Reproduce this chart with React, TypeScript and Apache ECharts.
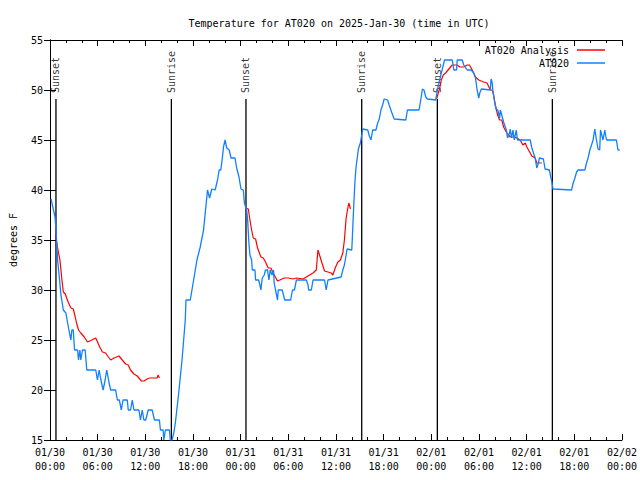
import React, { useEffect, useRef } from "react";
import * as echarts from "echarts";

// Hours since 2025-01-30 00:00 UTC
const obsHours = [0.13, 0.63, 0.75, 0.96, 1.18, 1.38, 1.68, 2.0, 2.22, 2.5, 2.63, 2.75, 2.93, 3.09, 3.47, 3.59, 3.76, 3.88, 4.09, 4.43, 4.63, 5.76, 5.97, 6.19, 6.41, 6.69, 6.94, 7.14, 7.44, 7.64, 8.26, 8.48, 8.73, 8.98, 9.19, 9.73, 9.85, 10.14, 10.36, 10.57, 11.19, 11.39, 11.61, 11.82, 12.05, 12.36, 12.86, 13.15, 13.77, 13.9, 14.24, 14.33, 14.53, 15.03, 15.15, 15.36, 15.58, 15.78, 16.2, 16.62, 17.03, 17.12, 17.66, 18.08, 18.5, 18.91, 19.33, 19.83, 20.09, 20.37, 20.79, 21.09, 21.29, 21.5, 21.71, 21.84, 22.04, 22.25, 22.56, 22.79, 23.29, 23.5, 23.79, 24.04, 24.34, 24.47, 24.76, 24.88, 25.04, 25.17, 25.38, 25.47, 25.8, 25.88, 26.26, 26.42, 26.55, 26.72, 26.97, 27.13, 27.39, 27.55, 27.72, 27.95, 28.14, 28.22, 28.39, 28.64, 28.73, 29.23, 29.55, 30.3, 30.52, 30.77, 31.02, 32.27, 32.48, 32.56, 32.9, 33.11, 34.56, 34.77, 34.99, 36.65, 36.86, 37.06, 37.28, 37.4, 37.99, 38.12, 38.24, 38.4, 38.53, 38.82, 39.07, 39.24, 39.37, 40.0, 40.2, 40.41, 40.62, 41.03, 41.25, 41.45, 41.66, 41.87, 42.07, 42.5, 42.7, 43.0, 43.33, 44.79, 45.0, 46.46, 46.67, 46.88, 47.08, 47.3, 47.51, 48.55, 48.76, 48.96, 49.26, 49.39, 49.67, 50.64, 50.84, 51.18, 51.26, 51.89, 52.09, 52.52, 53.02, 53.34, 53.56, 53.77, 53.97, 54.1, 54.31, 55.43, 55.52, 55.65, 55.77, 55.97, 56.15, 56.37, 56.6, 56.69, 56.87, 57.1, 57.44, 57.6, 57.85, 57.94, 58.1, 58.28, 58.45, 58.69, 58.85, 60.45, 60.66, 60.86, 61.07, 61.28, 61.48, 61.61, 62.11, 62.32, 62.86, 63.04, 63.2, 63.32, 65.66, 65.86, 66.08, 66.29, 66.49, 67.33, 67.54, 67.74, 67.96, 68.17, 68.37, 68.58, 68.79, 68.99, 69.2, 69.3, 69.62, 69.84, 70.05, 71.3, 71.5, 71.71];
const obsTemps = [39.1, 37.3, 36.1, 33, 31.2, 29.5, 28, 27.7, 26.7, 25.5, 25, 26, 26, 24, 24, 23, 24, 23, 24, 24, 22, 22, 21, 22, 21, 20, 21, 22, 20.7, 20, 20, 19, 19, 18, 19, 19, 18, 18, 19, 18, 18, 17, 18, 17, 17, 18, 18, 17, 17, 16, 16, 15, 16, 16, 15, 15, 15.7, 16.7, 19.7, 23, 27, 29, 29, 31, 33, 34.3, 36, 40, 39.2, 40.1, 40, 41, 42, 42, 43.3, 44.3, 45, 44.2, 44, 43.2, 43.2, 42.2, 41.3, 40.1, 40, 38.7, 38, 37, 34.7, 33.5, 33, 32, 32, 31, 31, 30.5, 30, 31.2, 31.5, 32, 32, 31, 32, 31.5, 32, 30.7, 30, 29, 30, 30, 29, 29, 30, 30, 31, 31, 30.5, 30, 30, 31, 31, 30, 31, 31.3, 32, 32.5, 33.5, 34.1, 34, 36.3, 38.5, 41, 42.3, 44.1, 44.7, 45.5, 46.1, 46, 45.4, 45, 46, 46, 46.7, 47.1, 48, 48.5, 49.1, 49, 48.5, 47.8, 47.1, 47, 48, 48, 49, 50.1, 50, 49.3, 49.1, 49, 50, 50.7, 51.7, 52.1, 53, 53, 52, 52, 53, 53, 52.5, 52, 52, 51.7, 51.2, 50, 49.2, 49.7, 50.1, 50, 51.1, 50.8, 49.8, 48.8, 48.1, 48, 47.2, 48, 47.5, 46.8, 46, 45.2, 45.7, 46.1, 45.2, 46, 45, 46, 45, 45, 44.2, 43.7, 43.2, 42.2, 42.7, 43.2, 43.1, 42.1, 42, 41.3, 40.7, 40.1, 40, 40.7, 41.2, 41.8, 42, 42, 42.7, 43.2, 44, 44.5, 45, 46.1, 45, 44.1, 44, 46, 45, 46, 45, 45, 44, 44];

// null = gap between analysis runs
const anaHours = [0.68, 0.96, 1.25, 1.38, 1.5, 1.68, 1.93, 2.09, 2.34, 2.63, 2.93, 3.18, 3.34, 3.59, 3.88, 4.31, 4.72, 5.26, 5.76, 6.26, 6.6, 7.01, 7.35, 7.64, 8.06, 8.69, 9.1, 9.52, 9.85, 10.14, 10.57, 10.98, 11.52, 11.82, 12.23, 12.52, 13.49, 13.61, 13.77, 19.0, 24.63, 24.97, 25.17, 25.38, 25.59, 25.88, 26.13, 26.55, 26.85, 27.13, 27.47, 27.8, 28.1, 28.64, 28.93, 29.48, 29.98, 30.6, 31.02, 31.86, 32.27, 32.68, 33.11, 33.52, 33.73, 33.93, 34.24, 34.56, 34.99, 35.4, 35.61, 35.9, 36.24, 36.56, 36.86, 37.06, 37.28, 37.49, 37.62, 37.82, 43.0, 48.67, 49.09, 49.26, 49.51, 49.8, 50.21, 50.64, 51.26, 51.59, 52.09, 52.52, 52.8, 53.02, 53.27, 53.56, 53.97, 54.6, 55.02, 55.43, 55.65, 55.85, 56.06, 56.35, 56.6, 56.87, 57.1, 57.44, 57.73, 57.94, 58.35, 58.78, 59.19, 59.53, 59.82, 60.03, 60.45, 60.66, 61.07, 61.28, 61.91];
const anaTemps = [35.6, 34.2, 33, 32, 31, 29.8, 29.6, 29.2, 28.7, 28.2, 28.1, 27.3, 26.7, 26, 25.7, 25.3, 24.8, 25, 25.2, 24.3, 23.8, 23.7, 23.3, 23, 23.2, 23.4, 23, 22.6, 22.5, 22, 21.6, 21.4, 20.9, 20.9, 21.1, 21.2, 21.2, 21.5, 21.2, null, 38.2, 38.1, 37, 36, 35.2, 35.1, 34.2, 33.3, 33.2, 32.8, 32.2, 32.2, 31.7, 30.9, 31, 31.2, 31.2, 31.1, 31.2, 31.1, 31.3, 31.5, 31.7, 32, 34, 33.5, 32.7, 31.9, 31.8, 31.7, 31.5, 32.2, 32.8, 33, 33.7, 35, 37.2, 38.2, 38.7, 38.1, null, 49.1, 50.3, 51, 51.5, 51.7, 52.1, 52.5, 52.5, 52.3, 52.3, 52.5, 52.5, 52.2, 51.8, 51.3, 51, 50.8, 50.7, 50, 50, 49.5, 48.5, 47.5, 47, 47, 46.3, 45.8, 45.5, 45.3, 45.3, 45.2, 45, 44.5, 44.7, 44.3, 43.7, 43.4, 43.2, 42.7, 42.7];

const sunHours = [0.75, 15.28, 24.67, 39.24, 48.76, 63.24];
const sunLabels = ["Sunset", "Sunrise", "Sunset", "Sunrise", "Sunset", "Sunrise"];

const xTickLabels = [
  "01/30\n00:00", "01/30\n06:00", "01/30\n12:00", "01/30\n18:00",
  "01/31\n00:00", "01/31\n06:00", "01/31\n12:00", "01/31\n18:00",
  "02/01\n00:00", "02/01\n06:00", "02/01\n12:00", "02/01\n18:00",
  "02/02\n00:00",
];

const Y_MIN = 15;
const Y_MAX = 55;
const SUN_TOP = 49.1;
const SUN_LABEL_Y = 49.7;

const FONT = '"DejaVu Sans Mono", monospace';
const BLUE = "#1080ff";
const RED = "#ff0000";

export default function App() {
  const ref = useRef<HTMLDivElement>(null);
  useEffect(() => {
    if (!ref.current) return;
    const chart = echarts.init(ref.current, undefined, { renderer: "svg" });

    const obsData = obsHours.map((h, i) => [h, obsTemps[i]]);
    const anaData = anaHours.map((h, i) => [h, anaTemps[i] === null ? "-" : anaTemps[i]]);
    const sunLineData: any[] = [];
    sunHours.forEach((h) => {
      sunLineData.push([h, Y_MIN], [h, SUN_TOP], [h, "-"]);
    });
    const sunLabelData = sunHours.map((h, i) => [h, SUN_LABEL_Y, sunLabels[i]]);

    const axisCommon = {
      axisLine: { show: true, lineStyle: { color: "#000", width: 1 } },
      axisTick: { show: true, inside: true, length: 6, lineStyle: { color: "#000", width: 1 } },
      splitLine: { show: false },
    };

    chart.setOption({
      animation: false,
      backgroundColor: "#fff",
      title: {
        text: "Temperature for AT020 on 2025-Jan-30 (time in UTC)",
        left: 334,
        top: 13,
        textAlign: "center",
        textStyle: { fontFamily: FONT, fontSize: 10, fontWeight: "normal", color: "#000" },
      },
      legend: {
        orient: "vertical",
        right: 30,
        top: 40,
        align: "right",
        icon: "rect",
        itemWidth: 28,
        itemHeight: 1.5,
        itemGap: 3,
        data: [
          { name: "AT020 Analysis", itemStyle: { color: RED } },
          { name: "AT020", itemStyle: { color: BLUE } },
        ],
        textStyle: { fontFamily: FONT, fontSize: 10, color: "#000", padding: [0, 3, 0, 0] },
      },
      grid: { left: 47, right: 18, top: 40, bottom: 40 },
      xAxis: [
        {
          type: "value",
          min: 0,
          max: 72,
          interval: 6,
          position: "bottom",
          ...axisCommon,
          minorTick: { show: true, splitNumber: 3, length: 3, lineStyle: { color: "#000" } },
          axisLabel: {
            formatter: (v: number) => xTickLabels[Math.round(v / 6)] || "",
            fontFamily: FONT,
            fontSize: 10,
            color: "#000",
            lineHeight: 14,
            margin: 5,
          },
        },
        {
          type: "value",
          min: 0,
          max: 72,
          interval: 6,
          position: "top",
          ...axisCommon,
          minorTick: { show: true, splitNumber: 3, length: 3, lineStyle: { color: "#000" } },
          axisLabel: { show: false },
        },
      ],
      yAxis: [
        {
          type: "value",
          min: Y_MIN,
          max: Y_MAX,
          interval: 5,
          position: "left",
          name: "degrees F",
          nameLocation: "middle",
          nameGap: 32,
          nameRotate: 90,
          nameTextStyle: { fontFamily: FONT, fontSize: 10, color: "#000" },
          ...axisCommon,
          axisLabel: { fontFamily: FONT, fontSize: 10, color: "#000", margin: 7 },
        },
        {
          type: "value",
          min: Y_MIN,
          max: Y_MAX,
          interval: 5,
          position: "right",
          ...axisCommon,
          axisLabel: { show: false },
        },
      ],
      series: [
        {
          name: "sun",
          type: "line",
          data: sunLineData,
          symbol: "none",
          connectNulls: false,
          lineStyle: { color: "#000", width: 1.3 },
          silent: true,
          z: 1,
        },
        {
          name: "sunLabels",
          type: "scatter",
          data: sunLabelData,
          symbolSize: 0,
          silent: true,
          label: {
            show: true,
            position: "inside",
            formatter: (p: any) => p.data[2],
            rotate: 90,
            align: "left",
            verticalAlign: "middle",
            fontFamily: FONT,
            fontSize: 10,
            color: "#000",
          },
          z: 1,
        },
        {
          name: "AT020 Analysis",
          type: "line",
          data: anaData,
          symbol: "none",
          connectNulls: false,
          lineStyle: { color: RED, width: 1.2 },
          itemStyle: { color: RED },
          z: 2,
        },
        {
          name: "AT020",
          type: "line",
          data: obsData,
          symbol: "none",
          lineStyle: { color: BLUE, width: 1.3 },
          itemStyle: { color: BLUE },
          z: 3,
        },
      ],
    });
    return () => chart.dispose();
  }, []);
  return <div ref={ref} style={{ position: "fixed", left: 0, top: 0, width: 640, height: 480 }} />;
}
